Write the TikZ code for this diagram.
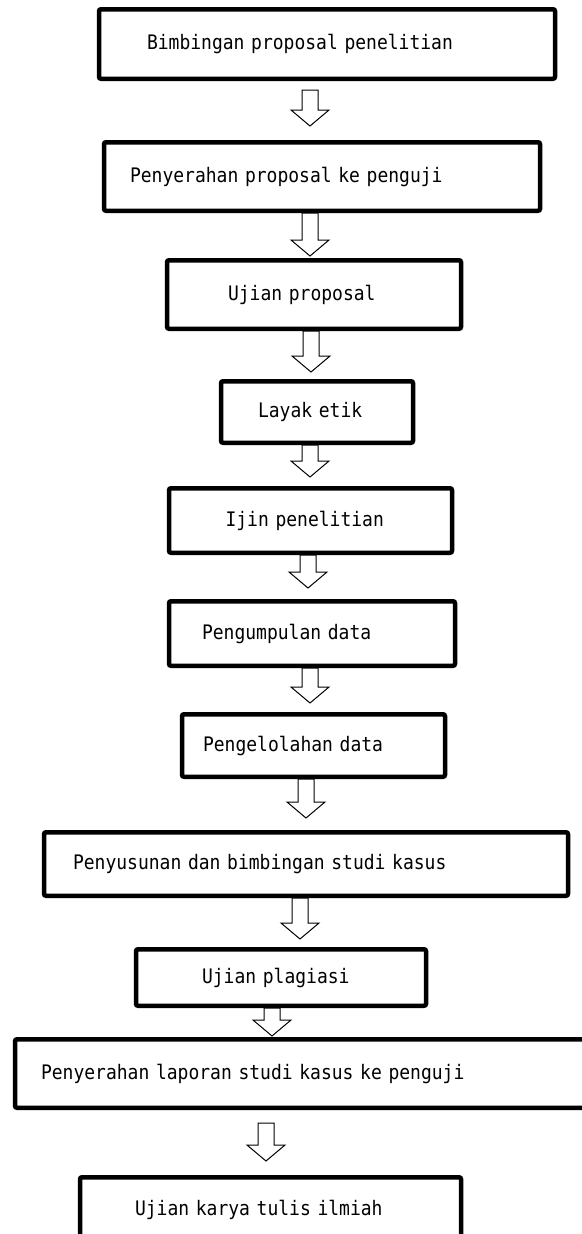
\documentclass[tikz,border=0pt]{standalone}
\usepackage{fontspec}
\newfontfamily\stepfont[FakeStretch=0.9]{DejaVu Sans Mono}
\usetikzlibrary{calc}

\begin{document}
\begin{tikzpicture}[
    x=1pt, y=-1pt,
    stepbox/.style={draw, line width=4.5pt, rounded corners=2pt, align=left,
        font=\fontsize{20}{24}\selectfont\stepfont},
    hollow/.style={draw, fill=white, line width=1pt, line join=miter,
        to path={let \p1=(\tikztostart), \p2=(\tikztotarget) in
            (\x1-8pt,\y1) -- (\x1-8pt,\y2+16pt) -- (\x1-19pt,\y2+16pt) -- (\x1,\y2)
            -- (\x1+19pt,\y2+16pt) -- (\x1+8pt,\y2+16pt) -- (\x1+8pt,\y1) -- cycle}}
]
\useasboundingbox (0,0) rectangle (581,1234);

% Steps
\node[stepbox, text width=360pt, inner xsep=48pt, minimum height=69.5pt] (b1) at (327,44) {Bimbingan proposal penelitian};
\node[stepbox, text width=384pt, inner xsep=26pt, minimum height=68.5pt] (b2) at (322,176.5) {Penyerahan proposal ke penguji};
\node[stepbox, text width=172pt, inner xsep=61pt, minimum height=68.5pt] (b3) at (314,294.5) {Ujian proposal};
\node[stepbox, text width=118pt, inner xsep=37pt, minimum height=61.5pt] (b4) at (317,412) {Layak etik};
\node[stepbox, text width=170pt, inner xsep=56.5pt, minimum height=64.5pt] (b5) at (310.5,520.5) {Ijin penelitian};
\node[stepbox, text width=220pt, inner xsep=33pt, minimum height=64.5pt] (b6) at (312,633.5) {Pengumpulan data};
\node[stepbox, text width=221pt, inner xsep=21pt, minimum height=62.5pt] (b7) at (313.5,745.5) {Pengelolahan data};
\node[stepbox, text width=466pt, inner xsep=29pt, minimum height=63.5pt] (b8) at (306,864) {Penyusunan dan bimbingan studi kasus};
\node[stepbox, text width=158pt, inner xsep=66pt, minimum height=56.5pt] (b9) at (281,977.5) {Ujian plagiasi};
\node[stepbox, text width=531pt, inner xsep=26pt, minimum height=68.5pt] (b10) at (306.5,1073.5) {Penyerahan laporan studi kasus ke penguji};
\node[stepbox, text width=271pt, inner xsep=55pt, minimum height=65.5pt] (b11) at (270.5,1210) {Ujian karya tulis ilmiah};

% Hollow arrows between steps
\draw[hollow] ([xshift=-17pt, yshift=-9pt]b1.south) to ([yshift=14pt]b2.north);
\draw[hollow] ([xshift=-12pt]b2.south) to ([yshift=2pt]b3.north);
\draw[hollow] ([xshift=-3pt]b3.south) to ([yshift=7pt]b4.north);
\draw[hollow] ([xshift=-7pt]b4.south) to ([yshift=9pt]b5.north);
\draw[hollow] ([xshift=-2.5pt]b5.south) to ([yshift=11pt]b6.north);
\draw[hollow] ([xshift=-2pt]b6.south) to ([yshift=9pt]b7.north);
\draw[hollow] ([xshift=-7.5pt]b7.south) to ([yshift=12pt]b8.north);
\draw[hollow] ([xshift=-6pt]b8.south) to ([yshift=8pt]b9.north);
\draw[hollow] ([xshift=-9pt]b9.south) to ([yshift=1pt]b10.north);
\draw[hollow] ([xshift=-40.5pt, yshift=-13pt]b10.south) to ([yshift=14pt]b11.north);

\end{tikzpicture}
\end{document}
